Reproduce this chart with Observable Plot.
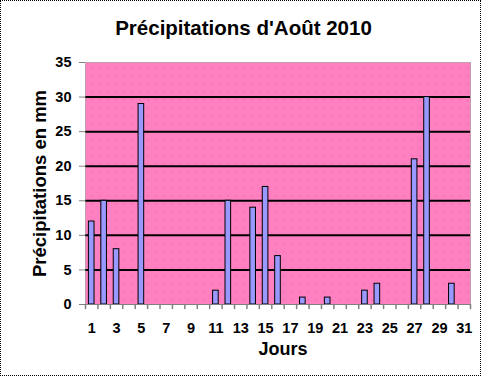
<!DOCTYPE html>
<html>
<head>
<meta charset="utf-8">
<script src="https://cdn.jsdelivr.net/npm/d3@7"></script>
<script src="https://cdn.jsdelivr.net/npm/@observablehq/plot@0.6"></script>
<style>
  body { margin: 0; background: #fff; }
  #wrap { position: relative; width: 481px; height: 376px; font-family: "Liberation Sans", Arial, sans-serif; }
  #title { position: absolute; top: 16px; left: 3px; width: 481px; text-align: center; font-weight: bold; font-size: 20.5px; color: #000; line-height: 24px; }
  #border { position: absolute; left: 0; top: 0; width: 481px; height: 376px; box-sizing: border-box; border: 1px dotted #000; pointer-events: none; }
  svg { display: block; }
</style>
</head>
<body>
<div id="wrap">
  <div id="chart"></div>
  <div id="title">Précipitations d'Août 2010</div>
  <div id="border"></div>
</div>
<script>
const days = d3.range(1, 32);
const rainDays = [1, 2, 3, 5, 11, 12, 14, 15, 16, 18, 20, 23, 24, 27, 28, 30];
const rainMm   = [12, 15, 8, 29, 2, 15, 14, 17, 7, 1, 1, 2, 3, 21, 30, 3];
const dayTickLabels = [1, 3, 5, 7, 9, 11, 13, 15, 17, 19, 21, 23, 25, 27, 29, 31];
const yTicks = [0, 5, 10, 15, 20, 25, 30, 35];
const gridValues = [5, 10, 15, 20, 25, 30];
const yLabel = "Précipitations en mm";
const xLabel = "Jours";

const data = rainDays.map((d, i) => ({day: d, mm: rainMm[i]}));

const W = 481, H = 376, ML = 85, MR = 11, MT = 62, MB = 72;
const step = (W - ML - MR) / days.length;
const barInset = 3.4;
const spike = {draw(ctx, l) { ctx.moveTo(0, 0); ctx.lineTo(0, -l); }};

const chart = Plot.plot({
  width: W, height: H,
  marginLeft: ML, marginRight: MR, marginTop: MT, marginBottom: MB,
  style: {fontFamily: '"Liberation Sans", Arial, sans-serif', fontSize: "14px", fontWeight: "bold", color: "#000", background: "transparent"},
  x: {type: "band", domain: days, padding: 0, round: false},
  y: {domain: [0, 35]},
  marks: [
    Plot.frame({fill: "#FF80C0", className: "pinkbg"}),
    Plot.ruleY(gridValues, {stroke: "#000", strokeWidth: 2}),
    Plot.barY(data, {x: "day", y: "mm", fill: "#9999FF", stroke: "#000", strokeWidth: 1, insetLeft: barInset, insetRight: barInset}),
    Plot.frame({stroke: "#808080", strokeDasharray: "1,1"}),
    Plot.ruleY([0], {stroke: "#808080"}),
    Plot.vector(days, {x: d => d, y: 0, length: 4, rotate: 180, anchor: "start", shape: spike, dx: -step / 2, stroke: "#808080"}),
    Plot.vector([days[days.length - 1]], {x: d => d, y: 0, length: 4, rotate: 180, anchor: "start", shape: spike, dx: step / 2, stroke: "#808080"}),
    Plot.axisY({ticks: yTicks, tickSize: 6, tickPadding: 8, label: null, stroke: "#808080", fill: "#000", fontSize: 14.5, fontWeight: "bold"}),
    Plot.axisX({ticks: dayTickLabels, tickSize: 0, tickPadding: 18, label: null, fontSize: 14.5, fontWeight: "bold"}),
    Plot.text([yLabel], {frameAnchor: "left", textAnchor: "middle", dx: -45, rotate: -90, fontSize: 18.5, fontWeight: "bold", fill: "#000"}),
    Plot.text([xLabel], {frameAnchor: "bottom", textAnchor: "middle", dy: 50, dx: 5, fontSize: 18, fontWeight: "bold", fill: "#000"})
  ]
});

// dotted pattern for the pink background
const ns = "http://www.w3.org/2000/svg";
const defs = document.createElementNS(ns, "defs");
const pat = document.createElementNS(ns, "pattern");
pat.setAttribute("id", "pinkdots");
pat.setAttribute("patternUnits", "userSpaceOnUse");
pat.setAttribute("width", "8");
pat.setAttribute("height", "8");
const bg = document.createElementNS(ns, "rect");
bg.setAttribute("width", "8"); bg.setAttribute("height", "8"); bg.setAttribute("fill", "#FF80C0");
const dot = document.createElementNS(ns, "rect");
dot.setAttribute("x", "3"); dot.setAttribute("y", "3"); dot.setAttribute("width", "1"); dot.setAttribute("height", "1"); dot.setAttribute("fill", "#E0609A");
pat.appendChild(bg); pat.appendChild(dot); defs.appendChild(pat);
chart.insertBefore(defs, chart.firstChild);
const pink = chart.querySelector(".pinkbg");
if (pink) {
  pink.setAttribute("fill", "url(#pinkdots)");
  pink.querySelectorAll("rect").forEach(r => r.setAttribute("fill", "url(#pinkdots)"));
}

document.getElementById("chart").appendChild(chart);
</script>
</body>
</html>
